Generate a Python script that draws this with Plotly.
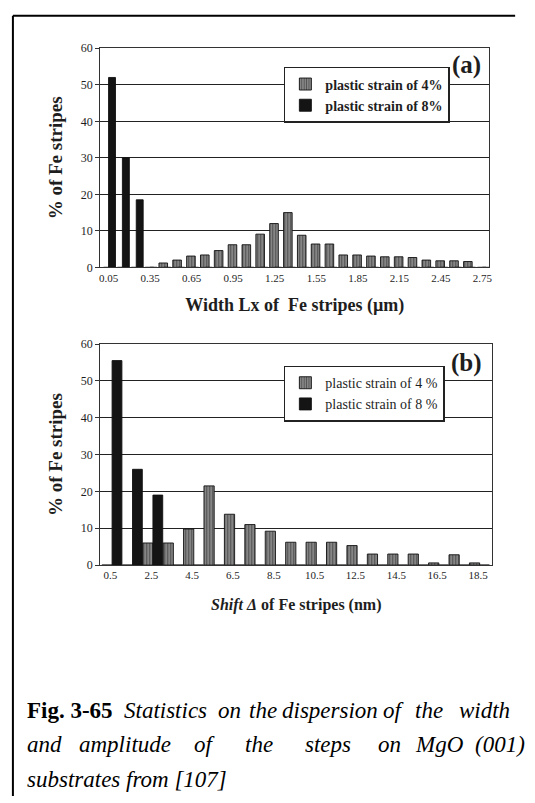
import plotly.graph_objects as go

# ---------------- data ----------------
cats_a = ["0.05", "0.15", "0.25", "0.35", "0.45", "0.55", "0.65", "0.75", "0.85", "0.95",
          "1.05", "1.15", "1.25", "1.35", "1.45", "1.55", "1.65", "1.75", "1.85", "1.95",
          "2.05", "2.15", "2.25", "2.35", "2.45", "2.55", "2.65", "2.75"]
a_strain4 = [0, 0, 0, 0, 1.2, 2.0, 3.1, 3.4, 4.6, 6.2,
             6.2, 9.1, 12.0, 15.0, 8.8, 6.4, 6.4, 3.4, 3.4, 3.1,
             2.9, 2.9, 2.7, 2.0, 1.8, 1.8, 1.6, 0]
a_strain8 = [52, 30, 18.5, 0, 0, 0, 0, 0, 0, 0,
             0, 0, 0, 0, 0, 0, 0, 0, 0, 0,
             0, 0, 0, 0, 0, 0, 0, 0]
ticks_a = ["0.05", "0.35", "0.65", "0.95", "1.25", "1.55", "1.85", "2.15", "2.45", "2.75"]

cats_b = ["0.5", "1.5", "2.5", "3.5", "4.5", "5.5", "6.5", "7.5", "8.5", "9.5",
          "10.5", "11.5", "12.5", "13.5", "14.5", "15.5", "16.5", "17.5", "18.5"]
b_strain4 = [0, 0, 6.0, 6.0, 9.8, 21.5, 13.8, 11.0, 9.2, 6.2,
             6.2, 6.2, 5.3, 3.0, 3.0, 3.0, 0.6, 2.8, 0.6]
b_strain8 = [55.5, 26.0, 19.0, 0, 0, 0, 0, 0, 0, 0,
             0, 0, 0, 0, 0, 0, 0, 0, 0]
ticks_b = ["0.5", "2.5", "4.5", "6.5", "8.5", "10.5", "12.5", "14.5", "16.5", "18.5"]

labels_a = ["plastic strain of 4%", "plastic strain of 8%"]
labels_b = ["plastic strain of 4 %", "plastic strain of 8 %"]

caption_line1 = ["Statistics", "on", "the", "dispersion", "of", "the", "width"]
caption_line2 = ["and", "amplitude", "of", "the", "steps", "on", "MgO", "(001)"]
caption_line3 = "substrates from [107]"

# ---------------- style ----------------
W, H = 535, 803
SERIF = "Liberation Serif"
GRAY = "#8c8c8c"
DARK = "#141414"
INK = "#1e1e1e"


def px_x(v):
    return v / W


def px_y(v):
    return 1 - v / H


pattern4 = dict(shape="|", fgcolor="#151515", bgcolor=GRAY, size=3, solidity=0.42)

fig = go.Figure()

# panel (a)
fig.add_trace(go.Bar(x=cats_a, y=a_strain4, name=labels_a[0], xaxis="x", yaxis="y",
                     width=0.62, offset=-0.36,
                     marker=dict(color=GRAY, pattern=pattern4, line=dict(color="#111", width=0.9)),
                     legend="legend"))
fig.add_trace(go.Bar(x=cats_a, y=a_strain8, name=labels_a[1], xaxis="x", yaxis="y",
                     width=0.5, offset=0.0,
                     marker=dict(color=DARK, line=dict(color="#111", width=0.9)),
                     legend="legend"))
# panel (b)
fig.add_trace(go.Bar(x=cats_b, y=b_strain4, name=labels_b[0], xaxis="x2", yaxis="y2",
                     width=0.5, offset=-0.42,
                     marker=dict(color=GRAY, pattern=pattern4, line=dict(color="#111", width=0.9)),
                     legend="legend2"))
fig.add_trace(go.Bar(x=cats_b, y=b_strain8, name=labels_b[1], xaxis="x2", yaxis="y2",
                     width=0.48, offset=0.08,
                     marker=dict(color=DARK, line=dict(color="#111", width=0.9)),
                     legend="legend2"))

tick_font = dict(family=SERIF, size=11, color=INK)
ytick_font = dict(family=SERIF, size=12, color=INK)

common_y = dict(range=[0, 60], dtick=10, showgrid=True, gridcolor="#222", gridwidth=1.4,
                showline=True, linecolor="#333", linewidth=1.4, mirror=True,
                ticks="outside", ticklen=4, tickcolor="#333", tickwidth=1.2,
                tickfont=ytick_font, zeroline=False, fixedrange=True)
common_x = dict(type="category", showline=True, linecolor="#333", linewidth=1.4, mirror=True,
                ticks="", showgrid=False, tickfont=tick_font, tickangle=0, fixedrange=True)

fig.update_layout(
    width=W, height=H, margin=dict(l=0, r=0, t=0, b=0),
    paper_bgcolor="white", plot_bgcolor="white",
    barmode="overlay",
    font=dict(family=SERIF, color=INK),
    xaxis=dict(common_x, domain=[px_x(100), px_x(492)], anchor="y",
               range=[-0.6, 27.5], tickmode="array", tickvals=ticks_a, ticktext=ticks_a,
               title=dict(text="<b>Width Lx of  Fe stripes (µm)</b>",
                          font=dict(family=SERIF, size=18, color=INK), standoff=15)),
    yaxis=dict(common_y, domain=[px_y(265), px_y(42)], anchor="x",
               title=dict(text="<b>% of Fe stripes</b>",
                          font=dict(family=SERIF, size=19, color=INK), standoff=12)),
    xaxis2=dict(common_x, domain=[px_x(100), px_x(495)], anchor="y2",
                range=[-0.5, 18.7], tickmode="array", tickvals=ticks_b, ticktext=ticks_b,
                title=dict(text="<b><i>Shift Δ</i> of Fe stripes (nm)</b>",
                           font=dict(family=SERIF, size=16, color=INK), standoff=18)),
    yaxis2=dict(common_y, domain=[px_y(568), px_y(343)], anchor="x2",
                title=dict(text="<b>% of Fe stripes</b>",
                           font=dict(family=SERIF, size=19, color=INK), standoff=12)),
    legend=dict(x=px_x(285), y=px_y(61), xanchor="left", yanchor="top",
                bgcolor="white", bordercolor="#222", borderwidth=1.5,
                font=dict(family=SERIF, size=14, color=INK, weight="bold"), itemwidth=30,
                tracegroupgap=0),
    legend2=dict(x=px_x(285), y=px_y(365), xanchor="left", yanchor="top",
                 bgcolor="white", bordercolor="#222", borderwidth=1.5,
                 font=dict(family=SERIF, size=14, color=INK), itemwidth=30,
                 tracegroupgap=0),
    showlegend=True,
)

CAP = 23
annotations = [
    dict(text="<b>(a)</b>", x=px_x(469), y=px_y(59), xref="paper", yref="paper", showarrow=False,
         font=dict(family=SERIF, size=25, color=INK), xanchor="center", yanchor="middle"),
    dict(text="<b>(b)</b>", x=px_x(469), y=px_y(362), xref="paper", yref="paper", showarrow=False,
         font=dict(family=SERIF, size=25, color=INK), xanchor="center", yanchor="middle"),
    dict(text="<b>Fig. 3-65</b>", x=px_x(24), y=px_y(716), xref="paper", yref="paper",
         showarrow=False, font=dict(family=SERIF, size=23, color="black"),
         xanchor="left", yanchor="middle"),
    dict(text=f"<i>{caption_line3}</i>",
         x=px_x(24), y=px_y(786), xref="paper", yref="paper", showarrow=False,
         font=dict(family=SERIF, size=CAP, color="black"), xanchor="left", yanchor="middle"),
]
# justified caption lines (word centres)
line1_cx = [166, 230, 264, 331, 396, 431, 487]
line2_cx = [44, 125, 206, 260, 329, 391, 442, 503]
for words, centres, yy in ((caption_line1, line1_cx, 716), (caption_line2, line2_cx, 751)):
    for w_, x_ in zip(words, centres):
        annotations.append(dict(text=f"<i>{w_}</i>", x=px_x(x_), y=px_y(yy), xref="paper",
                                yref="paper", showarrow=False,
                                font=dict(family=SERIF, size=CAP, color="black"),
                                xanchor="center", yanchor="middle"))
fig.update_layout(annotations=annotations)

# outer frame (left and top edges of the scanned box)
fig.update_layout(shapes=[
    dict(type="line", xref="paper", yref="paper", x0=px_x(12), x1=px_x(12), y0=0, y1=px_y(9),
         line=dict(color="black", width=2)),
    dict(type="line", xref="paper", yref="paper", x0=px_x(12), x1=px_x(518), y0=px_y(9), y1=px_y(9),
         line=dict(color="black", width=2)),
])

fig.write_html("out.html")
